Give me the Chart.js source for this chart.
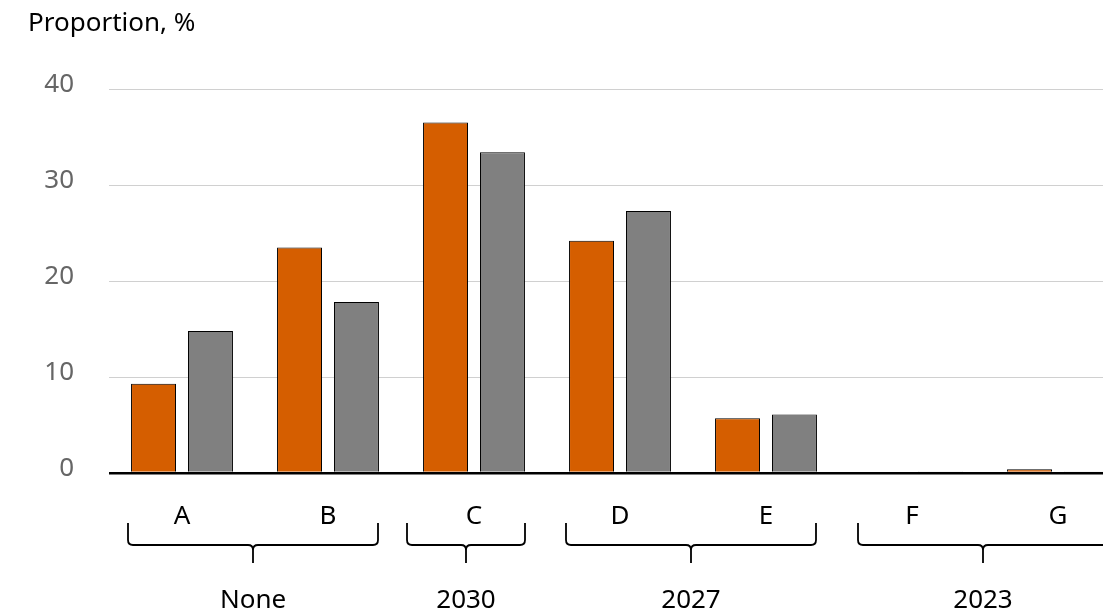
<!DOCTYPE html>
<html>
<head>
<meta charset="utf-8">
<script src="https://cdn.jsdelivr.net/npm/chart.js@4/dist/chart.umd.min.js"></script>
<style>
  html, body { margin: 0; padding: 0; background: #fff; overflow: hidden; }
  #wrap { width: 1103px; height: 616px; overflow: hidden; position: relative; }
  #box { width: 1131px; height: 616px; position: absolute; left: 0; top: 0; }
</style>
</head>
<body>
<div id="wrap"><div id="box"><canvas id="c"></canvas></div></div>
<script>
/* data */
var categories  = ['A', 'B', 'C', 'D', 'E', 'F', 'G'];
var seriesOne   = [9.3, 23.5, 36.5, 24.2, 5.7, 0, 0.4];
var seriesTwo   = [14.8, 17.8, 33.4, 27.3, 6.1, 0.1, 0.1];
var yTicks      = [0, 10, 20, 30, 40];
var groupLabels = ['None', '2030', '2027', '2023'];
var groupFirst  = [0, 2, 3, 5];
var groupLast   = [1, 2, 4, 6];

var FONT = "'Noto Sans', sans-serif";

/* ── título y llaves de grupos ───────────────── */
var extras = {
  id: 'extras',
  afterDraw: function(chart) {
    var ctx = chart.ctx;
    var x = chart.scales.x;
    ctx.save();
    ctx.fillStyle = '#000';
    ctx.font = '26px ' + FONT;
    ctx.textAlign = 'left';
    ctx.textBaseline = 'middle';
    ctx.fillText('Proportion, %', 28, 24);

    ctx.strokeStyle = '#000';
    ctx.lineWidth = 1.8;
    for (var i = 0; i < groupLabels.length; i++) {
      var single = groupFirst[i] === groupLast[i];
      var l, r;
      if (single) {
        l = x.getPixelForValue(groupFirst[i]) - 67;
        r = x.getPixelForValue(groupLast[i]) + 51;
      } else {
        l = x.getPixelForValue(groupFirst[i]) - 54;
        r = x.getPixelForValue(groupLast[i]) + 50;
      }
      var m = (l + r) / 2;
      var top = 523, h = 545, stem = 563, rr = 5;
      ctx.beginPath();
      ctx.moveTo(l, top);
      ctx.lineTo(l, h - rr);
      ctx.quadraticCurveTo(l, h, l + rr, h);
      ctx.lineTo(m - rr, h);
      ctx.quadraticCurveTo(m, h, m, h + rr);
      ctx.lineTo(m, stem);
      ctx.moveTo(r, top);
      ctx.lineTo(r, h - rr);
      ctx.quadraticCurveTo(r, h, r - rr, h);
      ctx.lineTo(m + rr, h);
      ctx.quadraticCurveTo(m, h, m, h + rr);
      ctx.stroke();

      ctx.font = '26px ' + FONT;
      ctx.textAlign = 'center';
      ctx.fillText(groupLabels[i], m, 601);
    }
    ctx.restore();
  }
};

new Chart(document.getElementById('c'), {
  type: 'bar',
  data: {
    labels: categories,
    datasets: [{
      data: seriesOne,
      backgroundColor: '#D55E00',
      borderColor: '#000',
      borderWidth: 1,
      categoryPercentage: 0.78,
      barPercentage: 0.79,
    }, {
      data: seriesTwo,
      backgroundColor: '#808080',
      borderColor: '#000',
      borderWidth: 1,
      categoryPercentage: 0.78,
      barPercentage: 0.79,
    }],
  },
  options: {
    responsive: true,
    maintainAspectRatio: false,
    animation: false,
    layout: { padding: { top: 89, left: 0, right: 0, bottom: 0 } },
    plugins: { legend: { display: false }, tooltip: { enabled: false } },
    scales: {
      x: {
        grid: { display: false, drawTicks: false },
        border: { display: false },
        ticks: { color: '#000', font: { family: FONT, size: 26 }, padding: 28 },
        afterFit: function(s) { s.height = 143; },
      },
      y: {
        min: 0, max: 40,
        afterBuildTicks: function(s) { s.ticks = yTicks.map(function(v) { return { value: v }; }); },
        grid: {
          drawTicks: false,
          color: function(c) { return c.tick && c.tick.value === 0 ? '#000' : '#d0d0d0'; },
          lineWidth: function(c) { return c.tick && c.tick.value === 0 ? 2.5 : 1; },
        },
        border: { display: false },
        ticks: { color: '#666', font: { family: FONT, size: 26 }, padding: 35, labelOffset: -4 },
        afterFit: function(s) { s.width = 109; },
      },
    },
  },
  plugins: [extras],
});
</script>
</body>
</html>
